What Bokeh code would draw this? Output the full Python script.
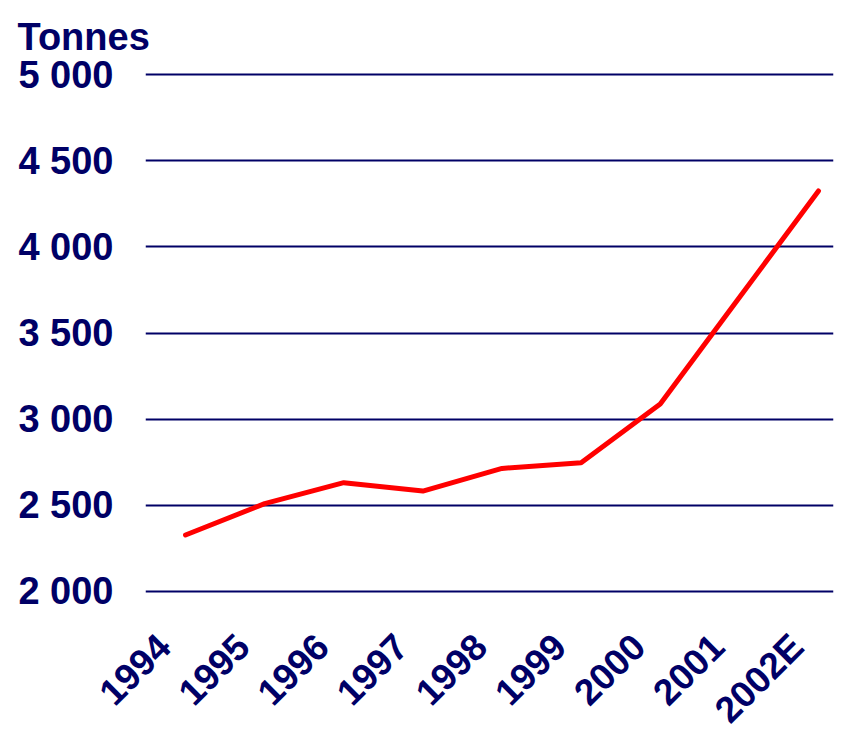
from bokeh.plotting import figure
from bokeh.models import FixedTicker, Range1d
from bokeh.embed import file_html
from bokeh.resources import INLINE
import math

years = ["1994", "1995", "1996", "1997", "1998", "1999", "2000", "2001", "2002E"]
tonnes = [2326, 2508, 2630, 2581, 2713, 2746, 3087, 3706, 4326]
y_ticks = [2000, 2500, 3000, 3500, 4000, 4500, 5000]
y_tick_labels = ["2 000", "2 500", "3 000", "3 500", "4 000", "4 500", "5 000"]
title_text = "Tonnes"

NAVY = "#000066"
FONT = "Liberation Sans"

xs = list(range(len(years)))
label_shift = -0.27
x_label_pos = [x + label_shift for x in xs]

p = figure(
    frame_width=688, frame_height=523,
    x_range=Range1d(-0.506, 8.19), y_range=Range1d(1980, 5020),
    output_backend="svg", toolbar_location=None,
    min_border_left=145, min_border_right=10, min_border_top=71, min_border_bottom=134,
    title=title_text,
)
p.outline_line_color = None
p.background_fill_color = "white"
p.border_fill_color = "white"

p.title.text_font = FONT
p.title.text_font_style = "bold"
p.title.text_font_size = "38px"
p.title.text_color = NAVY
p.title.align = "left"
p.title.vertical_align = "top"
p.title.offset = -128
p.title.standoff = 24

# grid
p.xgrid.grid_line_color = None
p.ygrid.ticker = FixedTicker(ticks=y_ticks)
p.ygrid.grid_line_color = NAVY
p.ygrid.grid_line_width = 2

# y axis
p.yaxis.ticker = FixedTicker(ticks=y_ticks)
p.yaxis.major_label_overrides = {t: l for t, l in zip(y_ticks, y_tick_labels)}
p.yaxis.axis_line_color = None
p.yaxis.major_tick_line_color = None
p.yaxis.minor_tick_line_color = None
p.yaxis.major_tick_out = 0
p.yaxis.major_tick_in = 0
p.yaxis.major_label_standoff = 32
p.yaxis.major_label_text_font = FONT
p.yaxis.major_label_text_font_style = "bold"
p.yaxis.major_label_text_font_size = "38px"
p.yaxis.major_label_text_color = NAVY

# x axis
p.xaxis.ticker = FixedTicker(ticks=x_label_pos)
p.xaxis.major_label_overrides = {pos: y for pos, y in zip(x_label_pos, years)}
p.xaxis.axis_line_color = None
p.xaxis.major_tick_line_color = None
p.xaxis.minor_tick_line_color = None
p.xaxis.major_tick_out = 0
p.xaxis.major_tick_in = 0
p.xaxis.major_label_orientation = math.pi / 4
p.xaxis.major_label_standoff = 46
p.xaxis.major_label_text_font = FONT
p.xaxis.major_label_text_font_style = "bold"
p.xaxis.major_label_text_font_size = "37px"
p.xaxis.major_label_text_color = NAVY

p.line(xs, tonnes, line_color="#ff0000", line_width=5, line_cap="round", line_join="round")

open("out.html", "w").write(file_html(p, INLINE))
